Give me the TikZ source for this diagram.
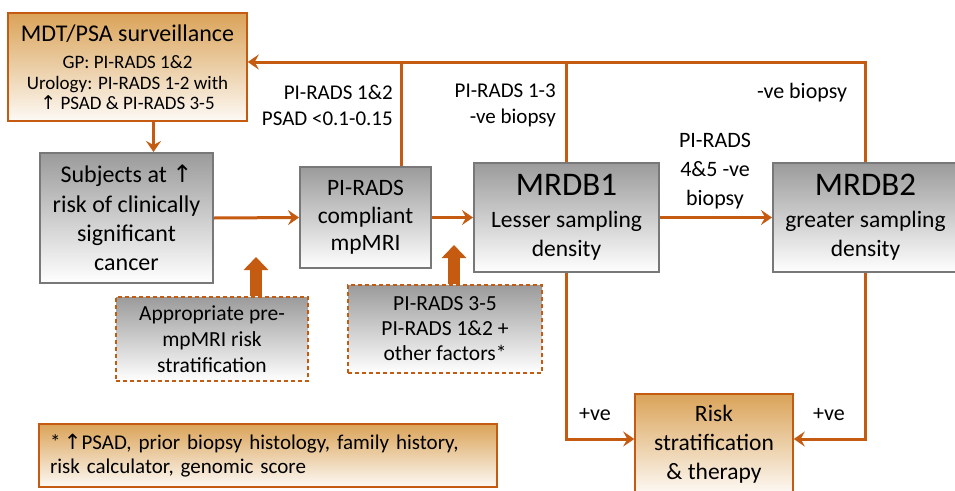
\documentclass[tikz,border=0pt]{standalone}
\usepackage{fontspec}
\setmainfont{Carlito}
\newfontfamily\arrowfont{DejaVu Sans}
\usetikzlibrary{arrows.meta}
\newcommand\uparr{{\arrowfont ↑}}

\begin{document}
\begin{tikzpicture}[x=1pt,y=-1pt,
	link/.style={draw=mrorange,line width=3pt},
	conn/.style={link,-{Stealth[length=11pt,width=15pt,inset=4pt]}},
	bigarrow/.style={draw=mrorange,line width=12pt,-{Triangle[length=13pt,width=24pt]}},
	greybox/.style={draw=mrgreyline,line width=2pt,top color=mrgrey,bottom color=white,align=center,inner sep=2pt},
	orangebox/.style={draw=mrorange,line width=1.5pt,top color=mrtan,bottom color=mrtan!6,align=center,inner sep=2pt},
	dashbox/.style={draw=mrorange,line width=1.5pt,dash pattern=on 4pt off 3pt,top color=mrgrey,bottom color=white,align=center,inner sep=2pt},
	lbl/.style={font=\fontsize{21}{26}\selectfont,inner sep=0pt}]

\definecolor{mrorange}{RGB}{197,90,17}
\definecolor{mrtan}{RGB}{218,163,88}
\definecolor{mrgrey}{RGB}{155,155,155}
\definecolor{mrgreyline}{RGB}{120,120,120}

\useasboundingbox[fill=white] (0,0) rectangle (955,490);

% boxes
\node[orangebox,minimum width=239pt,minimum height=108pt,font=\fontsize{19}{20.5}\selectfont] (mdt) at (127.5,67)
	{{\fontsize{24}{28}\selectfont MDT/PSA surveillance}\\[7pt]GP: PI-RADS 1\&2\\Urology: PI-RADS 1-2 with\\\uparr{} PSAD \& PI-RADS 3-5};
\node[greybox,minimum width=173pt,minimum height=130pt,font=\fontsize{24}{29.3}\selectfont] (subj) at (126.5,218)
	{Subjects at \uparr\\risk of clinically\\significant\\cancer};
\node[greybox,minimum width=131pt,minimum height=101pt,font=\fontsize{23.5}{27.5}\selectfont] (mri) at (365.5,217.5)
	{PI-RADS\\compliant\\mpMRI};
\node[greybox,minimum width=185pt,minimum height=109pt,font=\fontsize{23.5}{29}\selectfont] (mrdb1) at (566.5,217.5)
	{{\fontsize{33}{35}\selectfont MRDB1}\\[3pt]Lesser sampling\\density};
\node[greybox,minimum width=185pt,minimum height=109pt,font=\fontsize{23.5}{29}\selectfont] (mrdb2) at (865.5,217.5)
	{{\fontsize{33}{35}\selectfont MRDB2}\\[3pt]greater sampling\\density};
\node[orangebox,minimum width=158pt,minimum height=100pt,font=\fontsize{23.5}{29}\selectfont] (risk) at (714,444)
	{Risk\\stratification\\\& therapy};
\node[dashbox,minimum width=192pt,minimum height=84pt,font=\fontsize{21.5}{26}\selectfont] (appr) at (212,339)
	{Appropriate pre-\\mpMRI risk\\stratification};
\node[dashbox,minimum width=194pt,minimum height=88pt,font=\fontsize{21.5}{25}\selectfont] (other) at (445,329)
	{PI-RADS 3-5\\PI-RADS 1\&2 +\\other factors*};
\node[orangebox,text width=436pt,inner xsep=11pt,minimum height=63pt,align=left,font=\fontsize{21}{24}\selectfont] (note) at (268,455.5)
	{*\,\uparr PSAD, prior biopsy histology, family history,\\risk calculator, genomic score};

% labels
\node[lbl,anchor=east,align=right] (lpsad) at (393,105) {PI-RADS 1\&2\\PSAD <0.1-0.15};
\node[lbl,anchor=east,align=right] (lneg1) at (556,105) {PI-RADS 1-3\\-ve biopsy};
\node[lbl,font=\fontsize{22}{26}\selectfont] (lneg2) at (802,93) {-ve biopsy};
\node[lbl,font=\fontsize{22}{29}\selectfont,align=center] (lneg3) at (715,171) {PI-RADS\\4\&5 -ve\\biopsy};
\node[lbl,font=\fontsize{22}{26}\selectfont] (lpos1) at (595,415) {+ve};
\node[lbl,font=\fontsize{22}{26}\selectfont] (lpos2) at (829,415) {+ve};

% connectors
\coordinate (j1) at (401,62);
\coordinate (tip1) at (256,257);
\coordinate (tip2) at (454,245);

\draw[conn] ([xshift=26pt]mdt.south) -- ([xshift=27pt]subj.north);
\draw[conn] (subj.east) -- (mri.west);
\draw[conn] (mri.east) -- (mrdb1.west);
\draw[conn] (mrdb1.east) -- (mrdb2.west);
\draw[conn] (mrdb2.north) |- ([yshift=5pt]mdt.east);
\draw[link] (j1 |- mri.north) -- (j1);
\draw[link] (mrdb1.north) -- (mrdb1.north |- j1);
\draw[conn] (mrdb1.south) |- ([yshift=5pt]risk.west);
\draw[conn] (mrdb2.south) |- ([yshift=5pt]risk.east);

\draw[bigarrow] (tip1 |- appr.north) -- (tip1);
\draw[bigarrow] (tip2 |- other.north) -- (tip2);
\end{tikzpicture}
\end{document}
